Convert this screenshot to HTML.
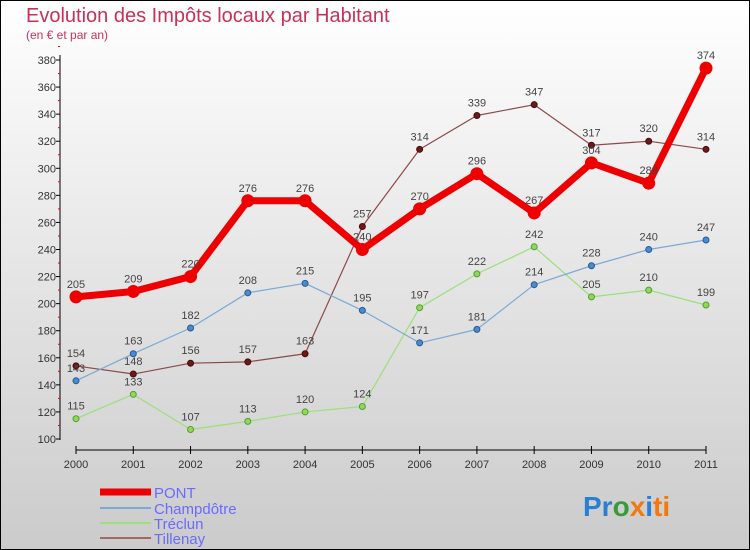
<!DOCTYPE html>
<html><head><meta charset="utf-8"><style>
body{margin:0}
#c{width:750px;height:550px;position:relative;overflow:hidden;font-family:"Liberation Sans",sans-serif}
svg text{font-family:"Liberation Sans",sans-serif}
</style></head><body>
<div id="c">
<svg id="s" width="750" height="550">
<defs><linearGradient id="bg" x1="0" y1="0" x2="0" y2="1"><stop offset="0" stop-color="#ffffff"/><stop offset="1" stop-color="#cbcbcb"/></linearGradient></defs>
<rect x="0.5" y="0.5" width="749" height="549" fill="url(#bg)" stroke="#000"/>
<text x="26" y="22" font-size="20" fill="#c8305a">Evolution des Impôts locaux par Habitant</text>
<text x="26" y="39" font-size="12" fill="#c8305a">(en € et par an)</text>
<g id="axes"></g>
<g id="series"></g>
<g id="legend"></g>
<text x="583" y="516" font-size="28" font-weight="bold"><tspan fill="#2a7fd4">Pr</tspan><tspan fill="#3a9a3a">o</tspan><tspan fill="#f07a10">x</tspan><tspan fill="#2a7fd4">i</tspan><tspan fill="#f07a10">ti</tspan></text>
</svg>
</div>
<script>
const years=[2000,2001,2002,2003,2004,2005,2006,2007,2008,2009,2010,2011];
const yTicks=[100,120,140,160,180,200,220,240,260,280,300,320,340,360,380];
const pont=[205,209,220,276,276,240,270,296,267,304,289,374];
const champdotre=[143,163,182,208,215,195,171,181,214,228,240,247];
const treclun=[115,133,107,113,120,124,197,222,242,205,210,199];
const tillenay=[154,148,156,157,163,257,314,339,347,317,320,314];
const seriesNames=["PONT","Champdôtre","Tréclun","Tillenay"];
const NS="http://www.w3.org/2000/svg";
function X(i){return 76+i*(706-76)/(years.length-1);}
function Y(v){return 439-(v-100)*(439-60)/280;}
function mk(tag,attrs,parent,txt){const e=document.createElementNS(NS,tag);for(const k in attrs)e.setAttribute(k,attrs[k]);if(txt!==undefined)e.textContent=txt;parent.appendChild(e);return e;}
const ax=document.getElementById('axes');
let e=mk('line',{x1:60,y1:55,x2:60,y2:440,stroke:'#000'},ax);


e=mk('line',{x1:76,y1:450,x2:706,y2:450,stroke:'#000'},ax);


yTicks.forEach(v=>{
 e=mk('text',{x:56,y:Y(v)+4,'font-size':11,fill:'#333','text-anchor':'end'},ax,String(v));
 
 
 mk('line',{x1:56,y1:Y(v),x2:60,y2:Y(v),stroke:'#000'},ax);
 mk('line',{x1:58,y1:Y(v+10),x2:60,y2:Y(v+10),stroke:'#e00'},ax);
});
years.forEach((yr,i)=>{
 mk('line',{x1:X(i),y1:446,x2:X(i),y2:454,stroke:'#000'},ax);
 e=mk('text',{x:X(i),y:468,'font-size':11,fill:'#333','text-anchor':'middle'},ax,String(yr));
 
 
});
const sg=document.getElementById('series');
function drawSeries(data,name,color,w,dot,dotStroke,r){
 const g=mk('g',{},sg);
 
 
 const p=mk('polyline',{points:data.map((v,i)=>X(i)+','+Y(v)).join(' '),fill:'none',stroke:color,'stroke-width':w,'stroke-linejoin':'round'},g);
 
 
 data.forEach((v,i)=>{
  const c=mk('circle',{cx:X(i),cy:Y(v),r:r,fill:dot,stroke:dotStroke,'stroke-width':1},g);
  
  
  const t=mk('text',{x:X(i),y:Y(v)-9,'font-size':11,fill:'#444','text-anchor':'middle'},g,String(v));
  
  
 });
}
drawSeries(tillenay,"Tillenay","#8b4a4a",1.2,"#6a1a1a","#4a0a0a",3);
drawSeries(treclun,"Treclun","#9be07a",1.2,"#8ed85a","#5a9a30",3);
drawSeries(champdotre,"Champdotre","#7aaad6",1.2,"#4a8ad0","#2a5a90",3);
drawSeries(pont,"PONT","#ee0000",7,"#ee0000","#ee0000",6);
const lg=document.getElementById('legend');
const lcol=["#ee0000","#7aaad6","#9be07a","#a06868"];
const lw=[7,2,2,2];
const ly=[492,508,523,538];
seriesNames.forEach((n,i)=>{
 const l=mk('line',{x1:100,y1:ly[i],x2:151,y2:ly[i],stroke:lcol[i],'stroke-width':lw[i]},lg);
 
 
 const t=mk('text',{x:154,y:ly[i]+6,'font-size':15,fill:'#6a6aff'},lg,n);
 
 
});
</script>
</body></html>
